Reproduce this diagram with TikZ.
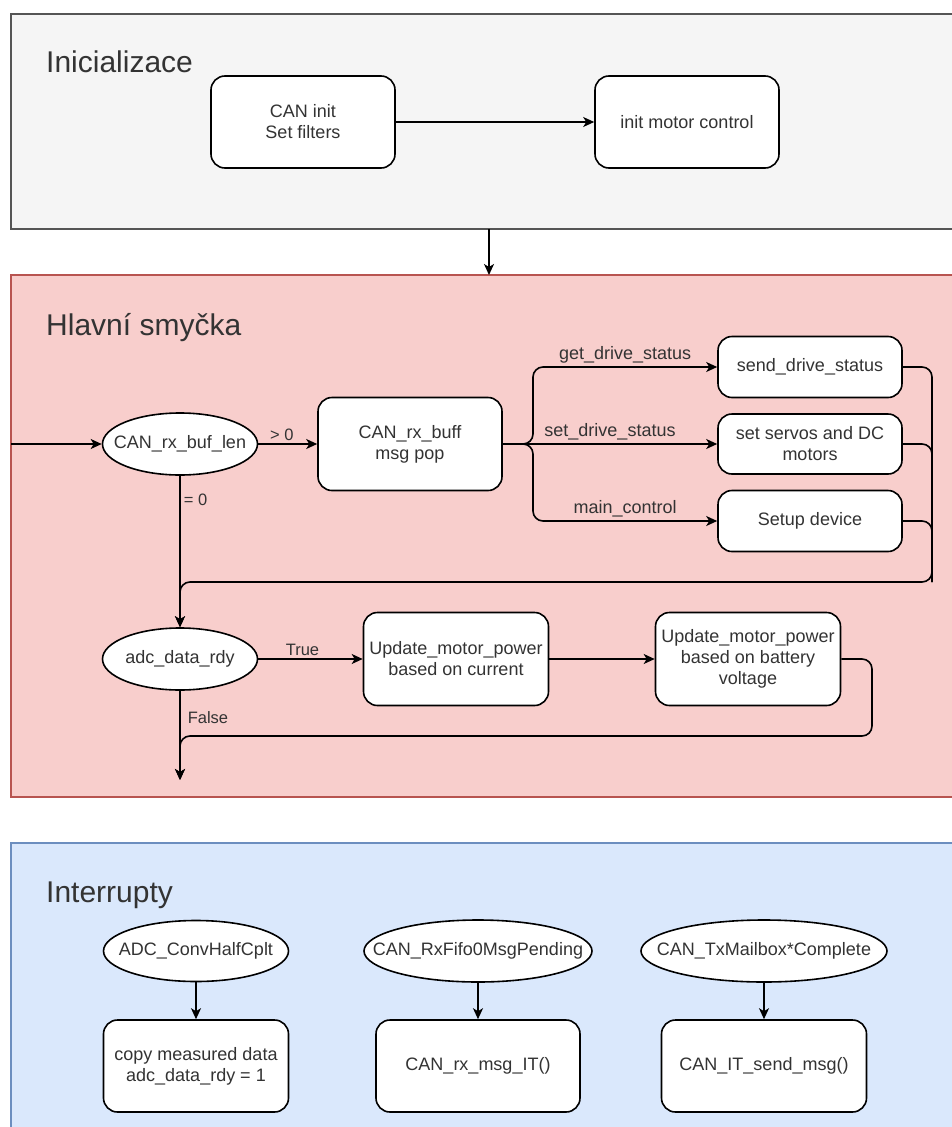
\documentclass[tikz,border=0pt]{standalone}
\usepackage{fontspec}
\setmainfont{Liberation Sans}
\usetikzlibrary{shapes.geometric,arrows.meta}

\definecolor{initfill}{HTML}{F5F5F5}
\definecolor{initline}{HTML}{555555}
\definecolor{loopfill}{HTML}{F8CECC}
\definecolor{loopline}{HTML}{B85450}
\definecolor{irqfill}{HTML}{DAE8FC}
\definecolor{irqline}{HTML}{6C8EBF}
\definecolor{txt}{HTML}{333333}

\tikzset{
  block/.style={draw, fill=white, rounded corners=14pt, line width=1.6pt, align=center,
    text=txt, font=\fontsize{18}{21}\selectfont, inner sep=0pt},
  % ellipse of fixed size, its text set as a centred label
  cond/.style={draw, fill=white, ellipse, line width=1.6pt, inner sep=0pt,
    label={[msg, inner sep=0pt]center:#1}},
  title/.style={anchor=base west, inner sep=0pt, text=txt, font=\fontsize{30}{36}\selectfont},
  lbl/.style={text=txt, font=\fontsize{16.5}{19}\selectfont, inner sep=3pt},
  msg/.style={text=txt, font=\fontsize{18}{21}\selectfont, inner sep=3pt},
  flow/.style={->, line width=1.6pt},
}

\begin{document}
\begin{tikzpicture}[x=1pt, y=-1pt, >={Stealth[length=11pt, width=10pt, inset=3pt]}]

\useasboundingbox (0,0) rectangle (952,1127);

% Panels
\draw[initline, fill=initfill, line width=1.5pt] (11,14) rectangle (965,229);
\draw[loopline, fill=loopfill, line width=1.5pt] (11,275) rectangle (965,797);
\draw[irqline, fill=irqfill, line width=1.5pt] (11,843) rectangle (965,1140);

\node[title] (tinit) at (46,72) {Inicializace};
\node[title] (tloop) at (46,335) {Hlavní smyčka};
\node[title] (tirq) at (46,902) {Interrupty};

% Inicializace
\node[block, minimum width=184pt, minimum height=92pt] (caninit) at (303,122) {CAN init\\Set filters};
\node[block, minimum width=184pt, minimum height=92pt] (motorinit) at (687,122) {init motor control};
\draw[flow] (caninit) -- (motorinit);

\coordinate (initout) at (489,229);
\coordinate (loopin) at (489,275);
\draw[flow] (initout) -- (loopin);

% Hlavni smycka: CAN messages
\node[cond=CAN\_rx\_buf\_len, minimum width=155pt, minimum height=62pt] (buflen) at (180,444) {};
\node[block, minimum width=184pt, minimum height=93pt] (pop) at (410,444) {CAN\_rx\_buff\\msg pop};
\node[block, minimum width=184pt, minimum height=61pt] (send) at (810,367) {send\_drive\_status};
\node[block, minimum width=184pt, minimum height=60pt] (servo) at (810,444) {set servos and DC\\motors};
\node[block, minimum width=184pt, minimum height=61pt] (setup) at (810,521) {Setup device};

\coordinate (entry) at (11,444);
\draw[flow] (entry) -- (buflen);
\draw[flow] (buflen) -- (pop) node[lbl, midway, above, xshift=-6pt] {> 0};

\coordinate (split) at (533,444);
\draw[flow, rounded corners=10pt] (pop.east) -- (split) |- (send.west)
  node[msg, pos=0.75, above] {get\_drive\_status};
\draw[flow] (pop) -- (servo) node[msg, midway, above] {set\_drive\_status};
\draw[flow, rounded corners=10pt] (pop.east) -- (split) |- (setup.west)
  node[msg, pos=0.75, above] {main\_control};

% Hlavni smycka: ADC data
\node[cond=adc\_data\_rdy, minimum width=155pt, minimum height=62pt] (adc) at (180,659) {};
\node[block, minimum width=185pt, minimum height=93pt] (updcur) at (456,659) {Update\_motor\_power\\based on current};
\node[block, minimum width=185pt, minimum height=93pt] (updbat) at (748,659) {Update\_motor\_power\\based on battery\\voltage};

\coordinate (back) at (932,582);
\draw[flow, rounded corners=10pt] (send.east) -| (back) -| (adc.north);
\draw[line width=1.6pt, rounded corners=10pt] (servo.east) -| (back);
\draw[line width=1.6pt, rounded corners=10pt] (setup.east) -| (back);
\draw[flow] (buflen) -- (adc) node[lbl, pos=0.16, anchor=west] {= 0};

\draw[flow] (adc) -- (updcur) node[lbl, midway, above, xshift=-8pt] {True};
\draw[flow] (updcur) -- (updbat);

\coordinate (skip) at (872,736);
\coordinate (loopout) at (180,780);
\draw[flow, rounded corners=10pt] (updbat.east) -| (skip) -| (loopout);
\draw[flow] (adc) -- (loopout) node[lbl, pos=0.3, anchor=west, xshift=4pt] {False};

% Interrupty
\node[cond=ADC\_ConvHalfCplt, minimum width=185pt, minimum height=61pt] (irqadc) at (196,951) {};
\node[cond=CAN\_RxFifo0MsgPending, minimum width=228pt, minimum height=62pt] (irqrx) at (478,951) {};
\node[cond=CAN\_TxMailbox*Complete, minimum width=246pt, minimum height=62pt] (irqtx) at (764,951) {};

\node[block, minimum width=185pt, minimum height=92pt] (copy) at (196,1066) {copy measured data\\adc\_data\_rdy = 1};
\node[block, minimum width=204pt, minimum height=92pt] (rxit) at (478,1066) {CAN\_rx\_msg\_IT()};
\node[block, minimum width=205pt, minimum height=92pt] (txit) at (764,1066) {CAN\_IT\_send\_msg()};

\draw[flow] (irqadc) -- (copy);
\draw[flow] (irqrx) -- (rxit);
\draw[flow] (irqtx) -- (txit);

\end{tikzpicture}
\end{document}
